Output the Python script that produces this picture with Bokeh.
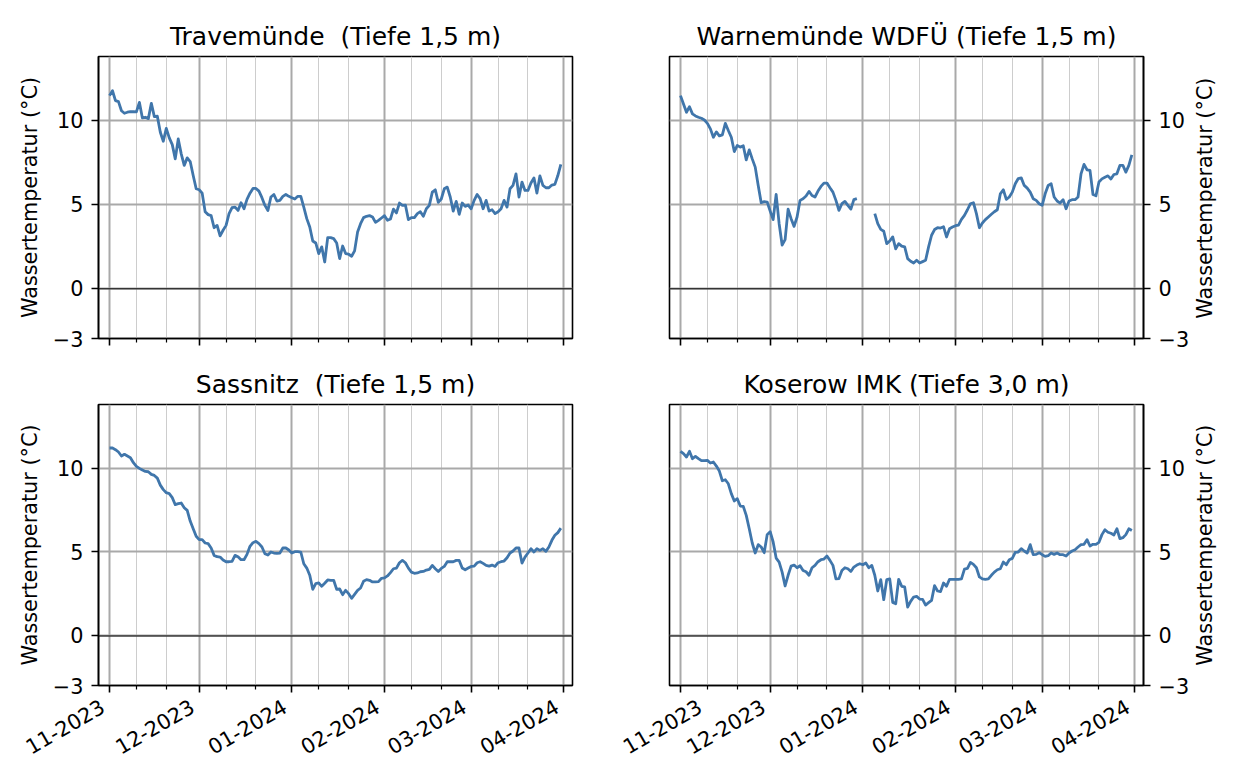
import math
import pandas as pd
from bokeh.embed import file_html
from bokeh.resources import INLINE
from bokeh.layouts import column, row
from bokeh.models import FixedTicker, Span, ColumnDataSource, LinearAxis
from bokeh.plotting import figure

NaN = float("nan")
start_date = "2023-11-01"
titles = ["Travemünde\u00a0 (Tiefe 1,5 m)", "Warnemünde WDFÜ (Tiefe 1,5 m)", "Sassnitz\u00a0 (Tiefe 1,5 m)", "Koserow IMK (Tiefe 3,0 m)"]
y_label = "Wassertemperatur (°C)"
major_dates = ["2023-11-01", "2023-12-01", "2024-01-01", "2024-02-01", "2024-03-01", "2024-04-01"]
major_labels = ["11-2023", "12-2023", "01-2024", "02-2024", "03-2024", "04-2024"]
minor_dates = ["2023-11-10", "2023-11-20", "2023-12-10", "2023-12-20", "2024-01-10", "2024-01-20",
               "2024-02-10", "2024-02-20", "2024-03-10", "2024-03-20"]
y_ticks = [-3, 0, 5, 10]
y_tick_labels = ["−3", "0", "5", "10"]

travemuende = [
    11.47, 11.76, 11.17, 11.11, 10.57, 10.42, 10.48, 10.51, 10.51, 10.50, 11.07, 10.14, 10.18, 10.10, 11.01, 10.22,
    10.24, 9.29, 8.75, 9.52, 8.95, 8.55, 7.70, 8.89, 8.00, 7.31, 7.76, 7.54, 6.71, 5.92, 5.86, 5.66, 4.55, 4.38, 4.32,
    3.60, 3.74, 3.11, 3.45, 3.74, 4.44, 4.79, 4.83, 4.63, 5.09, 4.73, 5.29, 5.66, 5.94, 5.94, 5.78, 5.39, 4.93, 4.63,
    5.43, 5.58, 5.19, 5.23, 5.47, 5.58, 5.47, 5.39, 5.31, 5.47, 5.47, 4.83, 4.14, 3.64, 2.81, 2.69, 2.06, 2.46, 1.56, 3.01,
    3.01, 2.95, 2.69, 1.76, 2.51, 2.06, 2.02, 1.90, 2.22, 3.35, 3.84, 4.20, 4.28, 4.32, 4.24, 3.92, 4.04, 4.18, 4.32,
    4.04, 4.12, 4.71, 4.48, 5.07, 4.93, 4.95, 4.08, 4.20, 4.20, 4.44, 4.55, 4.28, 4.73, 4.93, 5.72, 5.86, 5.11, 5.31,
    5.92, 6.02, 5.43, 4.59, 5.17, 4.40, 5.07, 4.87, 4.95, 4.73, 5.23, 5.58, 5.33, 4.73, 5.23, 4.59, 4.67, 4.44, 4.55,
    4.73, 5.23, 4.83, 5.92, 6.12, 6.81, 5.43, 6.32, 5.82, 5.82, 6.26, 6.57, 5.66, 6.69, 6.12, 5.98, 5.98, 6.14, 6.18, 6.71, 7.37,
]
warnemuende = [
    11.47, 10.97, 10.48, 10.81, 10.38, 10.26, 10.18, 10.12, 10.02, 9.82, 9.49, 8.99, 9.31, 9.07, 9.13, 9.82, 9.39, 8.99,
    8.14, 8.50, 8.40, 8.48, 7.64, 8.24, 7.70, 7.21, 6.12, 5.09, 5.15, 5.13, 4.59, 4.08, 5.58, 3.84, 2.57, 2.89, 4.71,
    4.14, 3.68, 4.24, 5.23, 5.33, 5.49, 5.76, 5.52, 5.43, 5.78, 6.06, 6.26, 6.26, 5.98, 5.72, 5.23, 4.63, 5.03, 5.17,
    4.93, 4.71, 5.27, 5.33, NaN, NaN, NaN, NaN, NaN, 4.44, 3.84, 3.50, 3.39, 2.65, 2.81, 3.05, 2.34, 2.65,
    2.50, 2.46, 1.76, 1.60, 1.50, 1.66, 1.50, 1.58, 1.66, 2.46, 3.15, 3.49, 3.60, 3.58, 3.66, 3.05, 3.54, 3.64, 3.72,
    3.76, 4.10, 4.34, 4.67, 5.03, 5.09, 4.44, 3.60, 3.88, 4.08, 4.24, 4.40, 4.55, 4.67, 5.62, 5.86, 5.29, 5.43, 5.72,
    6.22, 6.53, 6.57, 6.12, 5.96, 5.72, 5.33, 5.23, 5.03, 4.93, 5.62, 6.12, 6.22, 5.43, 5.19, 5.07, 5.27, 4.73, 5.19,
    5.27, 5.27, 5.43, 6.81, 7.37, 7.05, 7.01, 5.58, 5.50, 6.32, 6.51, 6.61, 6.69, 6.50, 6.77, 6.81, 7.31, 7.31, 6.91, 7.31, 7.94,
]
sassnitz = [
    11.20, 11.20, 11.10, 10.96, 10.72, 10.82, 10.72, 10.62, 10.32, 10.10, 9.98, 9.88, 9.80, 9.78, 9.62, 9.56, 9.40, 8.98,
    8.71, 8.53, 8.47, 8.23, 7.81, 7.87, 7.91, 7.63, 7.47, 6.83, 6.37, 5.92, 5.72, 5.72, 5.52, 5.48, 5.22, 4.78, 4.70,
    4.68, 4.50, 4.40, 4.40, 4.42, 4.78, 4.70, 4.52, 4.52, 4.84, 5.32, 5.54, 5.62, 5.48, 5.28, 4.88, 4.80, 4.98, 4.92,
    4.90, 4.92, 5.22, 5.22, 5.10, 4.92, 5.00, 5.00, 4.98, 4.28, 4.02, 3.59, 2.75, 3.09, 3.13, 2.93, 3.11, 3.31,
    3.29, 3.29, 2.75, 2.77, 2.43, 2.69, 2.49, 2.21, 2.45, 2.69, 2.83, 3.23, 3.33, 3.29, 3.19, 3.19, 3.21, 3.41, 3.43,
    3.55, 3.75, 3.98, 4.02, 4.34, 4.48, 4.34, 4.02, 3.78, 3.71, 3.73, 3.80, 3.82, 3.90, 3.94, 4.18, 3.98, 3.82, 4.00,
    4.12, 4.40, 4.40, 4.40, 4.48, 4.48, 4.02, 3.92, 4.02, 4.12, 4.14, 4.34, 4.40, 4.30, 4.18, 4.14, 4.20, 4.12, 4.34,
    4.40, 4.44, 4.64, 4.92, 5.04, 5.22, 5.22, 4.32, 4.68, 4.92, 5.18, 4.98, 5.18, 5.08, 5.18, 5.02, 5.28, 5.68, 5.98, 6.14, 6.41,
]
koserow = [
    11.00, 10.86, 10.66, 11.00, 10.56, 10.70, 10.56, 10.44, 10.44, 10.46, 10.30, 10.36, 10.12, 9.82, 9.24, 9.30, 9.06, 8.47,
    8.03, 8.17, 7.73, 7.71, 7.17, 6.37, 5.52, 4.92, 5.42, 5.28, 4.94, 6.02, 6.20, 5.58, 4.62, 4.38, 3.78, 2.95, 3.59,
    4.14, 4.20, 4.04, 4.16, 3.88, 3.80, 3.59, 4.04, 4.18, 4.40, 4.52, 4.56, 4.74, 4.48, 4.18, 3.37, 3.39, 3.88, 4.04,
    3.98, 3.82, 4.08, 4.20, 4.28, 4.22, 4.32, 4.04, 4.18, 3.59, 2.65, 3.33, 2.13, 3.33, 3.37, 1.97, 1.89, 3.35,
    2.93, 2.89, 1.69, 2.03, 2.29, 2.33, 2.17, 2.15, 1.81, 1.95, 2.09, 2.97, 2.65, 2.61, 3.13, 2.93, 3.35, 3.35, 3.35,
    3.35, 3.37, 3.96, 4.00, 4.36, 4.24, 4.04, 3.49, 3.37, 3.35, 3.37, 3.59, 3.78, 3.92, 3.98, 4.38, 4.22, 4.52, 4.60,
    4.96, 4.98, 5.18, 5.04, 4.92, 5.42, 4.82, 4.84, 4.94, 4.82, 4.72, 4.76, 4.92, 4.84, 4.92, 4.82, 4.82, 4.74, 4.92,
    5.04, 5.12, 5.28, 5.42, 5.44, 5.72, 5.34, 5.44, 5.44, 5.56, 6.02, 6.31, 6.16, 6.10, 6.00, 6.37, 5.78, 5.84, 6.02, 6.37, 6.27,
]
series = [travemuende, warnemuende, sassnitz, koserow]
for s in series:
    assert len(s) == 152, len(s)


def ms(d):
    return pd.Timestamp(d).value / 1e6


DAY = 86400000.0
x0 = ms(start_date)
x_range = (x0 - 3.68 * DAY, x0 + 154.9 * DAY)
y_range = (-3, 13.8)
LINE = "#4076AB"
FONT = "DejaVu Sans"
TICK_PX = "20.8px"
TITLE_PX = "25px"
LABEL_SHIFT = 2.34 * DAY


def make(idx):
    right = idx % 2 == 1
    bottom = idx >= 2
    frame_h = 281 if bottom else 282
    top_border = 44 if bottom else 56
    bottom_border = 91 if bottom else 22
    p = figure(
        width=612 if right else 620, height=top_border + frame_h + bottom_border,
        x_range=x_range, y_range=y_range,
        output_backend="svg", toolbar_location=None,
        y_axis_location="right" if right else "left",
        title=titles[idx],
    )
    p.min_border_left = 49 if right else 98
    p.min_border_right = 89 if right else 48
    p.min_border_top = top_border
    p.min_border_bottom = bottom_border
    p.background_fill_color = "white"
    p.border_fill_color = "white"
    p.outline_line_color = "#000000"
    p.outline_line_width = 1.6
    p.outline_line_alpha = 1

    p.title.align = "center"
    p.title.text_font = FONT
    p.title.text_font_size = TITLE_PX
    p.title.text_font_style = "normal"
    p.title.text_color = "#000000"
    p.title.standoff = 11

    major = [ms(d) for d in major_dates]
    minor = [ms(d) for d in minor_dates]
    xticker = FixedTicker(ticks=major, minor_ticks=minor)
    yticker = FixedTicker(ticks=y_ticks)

    ax = p.xaxis[0]
    ax.ticker = xticker
    ax.major_label_overrides = {m: "" for m in major}
    if bottom:
        shifted = [m - LABEL_SHIFT for m in major]
        label_axis = LinearAxis(
            ticker=FixedTicker(ticks=shifted),
            major_label_overrides={m: l for m, l in zip(shifted, major_labels)},
            major_label_orientation=math.radians(30),
            major_label_text_font=FONT,
            major_label_text_font_size=TICK_PX,
            major_label_text_color="#000000",
            major_label_standoff=6,
            major_tick_line_color=None,
            minor_tick_line_color=None,
            axis_line_color=None,
        )
        p.add_layout(label_axis, "below")

    ay = p.yaxis[0]
    ay.ticker = yticker
    ay.major_label_overrides = {t: l for t, l in zip(y_ticks, y_tick_labels)}
    if right:
        title_axis = LinearAxis(
            ticker=FixedTicker(ticks=[]),
            axis_label="\u00a0\u00a0\u00a0" + y_label,
            axis_label_orientation=math.pi / 2,
            axis_label_align="start",
            axis_label_standoff=12,
            axis_label_text_font=FONT,
            axis_label_text_font_size=TICK_PX,
            axis_label_text_font_style="normal",
            axis_label_text_color="#000000",
            major_tick_line_color=None,
            minor_tick_line_color=None,
            axis_line_color=None,
        )
        p.add_layout(title_axis, "right")
    else:
        ay.axis_label = y_label
        ay.axis_label_text_font = FONT
        ay.axis_label_text_font_size = TICK_PX
        ay.axis_label_text_font_style = "normal"
        ay.axis_label_text_color = "#000000"
        ay.axis_label_standoff = 8

    for a in (ax, ay):
        a.major_label_text_font = FONT
        a.major_label_text_font_size = TICK_PX
        a.major_label_text_color = "#000000"
        a.major_tick_line_color = "#000000"
        a.major_tick_line_width = 1.6
        a.major_tick_in = 0
        a.major_tick_out = 7
        a.axis_line_color = "#000000"
        a.axis_line_width = 1.6
    ax.minor_tick_line_color = "#000000"
    ax.minor_tick_line_width = 1.2
    ax.minor_tick_in = 0
    ax.minor_tick_out = 4
    ay.minor_tick_line_color = None
    ax.major_label_standoff = 3
    ay.major_label_standoff = 8

    g = p.xgrid[0]
    g.ticker = xticker
    g.grid_line_color = "#a9a9a9"
    g.grid_line_width = 2.0
    g.minor_grid_line_color = "#cdcdcd"
    g.minor_grid_line_width = 1.0
    gy = p.ygrid[0]
    gy.ticker = yticker
    gy.grid_line_color = "#a9a9a9"
    gy.grid_line_width = 2.0

    p.add_layout(Span(location=-0.04, dimension="width", line_color="#000000", line_width=1.0, level="underlay"))

    src = ColumnDataSource(dict(
        x=[x0 + i * DAY for i in range(len(series[idx]))],
        y=series[idx],
    ))
    p.line("x", "y", source=src, line_color=LINE, line_width=2.8, line_join="round")
    return p


plots = [make(i) for i in range(4)]
layout = column(row(plots[0], plots[1], spacing=0), row(plots[2], plots[3], spacing=0), spacing=0)
open("out.html", "w").write(file_html(layout, INLINE))
